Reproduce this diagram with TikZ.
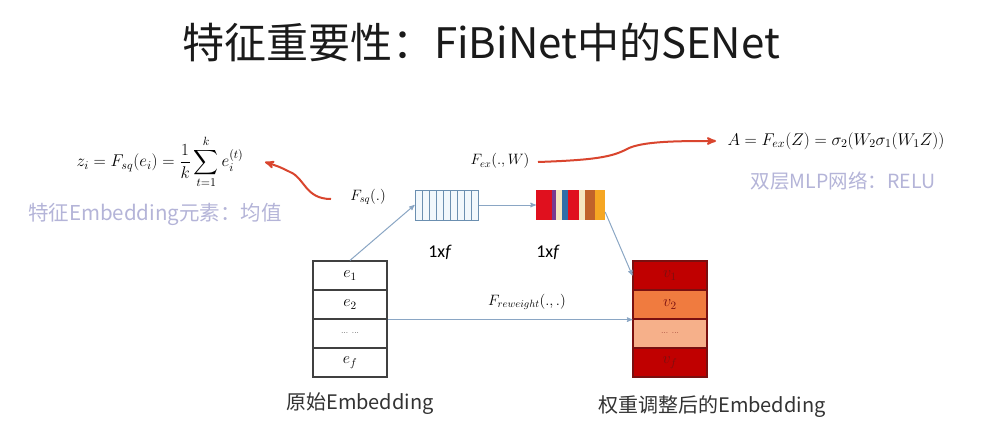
\RequirePackage{fix-cm}
\documentclass[tikz,border=0pt]{standalone}
\usepackage{fontspec}
\usepackage{amsmath}
\usepackage{tikz}
\usetikzlibrary{arrows}
\newfontfamily\cjk{Noto Sans CJK SC}
\newfontfamily\calib{Carlito}
\definecolor{titletext}{HTML}{1A1A1A}
\definecolor{softtext}{HTML}{B4B4D8}
\definecolor{curvered}{HTML}{D9452E}
\definecolor{linkblue}{HTML}{8AA6C4}
\definecolor{sqfill}{HTML}{F2F8FC}
\definecolor{sqdraw}{HTML}{6B8FB0}
\definecolor{vdark}{HTML}{C00000}
\definecolor{vmid}{HTML}{F07B3F}
\definecolor{vlight}{HTML}{F6B08A}
\definecolor{vedge}{HTML}{7A1010}
\definecolor{exred}{HTML}{E0101E}
\definecolor{expurple}{HTML}{7A3B8F}
\definecolor{excream}{HTML}{F5E6C0}
\definecolor{exblue}{HTML}{2F6EA8}
\definecolor{exbrown}{HTML}{C0622A}
\definecolor{exorange}{HTML}{F5A623}
\begin{document}
\begin{tikzpicture}[>=stealth',x=1pt,y=-1pt,
	cell/.style={draw=black!75,minimum width=74pt,minimum height=29pt,inner sep=0pt,line width=1.2pt,font=\fontsize{16}{18}\selectfont},
	vcell/.style={cell,draw=vedge,text=vedge},
	sqcell/.style={draw=sqdraw,fill=sqfill,minimum width=7.1pt,minimum height=30pt,inner sep=0pt,line width=0.8pt},
	excell/.style={minimum height=30pt,inner sep=0pt},
	link/.style={->,draw=linkblue,line width=1pt},
	curve/.style={->,draw=curvered,line width=2pt},
	soft/.style={text=softtext,font=\cjk\fontsize{20.5}{24}\selectfont},
	bottomtext/.style={text=black!80,font=\cjk\fontsize{20}{24}\selectfont},
	fname/.style={font=\fontsize{15}{17}\selectfont},
	dimtext/.style={font=\calib\fontsize{18}{20}\selectfont}]
	\useasboundingbox[fill=white](0,0)rectangle(1002,432);
	\node[text=titletext,font=\cjk\fontsize{42}{50}\selectfont](title)at(481,42){特征重要性：FiBiNet中的SENet};
	\node[font=\fontsize{17}{20}\selectfont](sqformula)at(160,162){$\displaystyle z_i=F_{sq}(e_i)=\frac{1}{k}\sum_{t=1}^{k}e_i^{(t)}$};
	\node[soft](sqnote)at(155,214){特征Embedding元素：均值};
	\node[font=\fontsize{17}{20}\selectfont](exformula)at(836,141){$A=F_{ex}(Z)=\sigma_2(W_2\sigma_1(W_1Z))$};
	\node[soft,font=\cjk\fontsize{19.5}{22}\selectfont](exnote)at(843,181){双层MLP网络：RELU};
	\node[fname](fsq)at(368,197){$F_{sq}(.)$};
	\node[fname](fex)at(500,161){$F_{ex}(.,W)$};
	\node[fname](frew)at(527,302){$F_{reweight}(.,.)$};
	\node[dimtext](sqdim)at(440,252){1x\textit{f}};
	\node[dimtext](exdim)at(548,252){1x\textit{f}};
	\node[cell](e1)at(350,275.5){$e_1$};
	\node[cell](e2)at(350,304.5){$e_2$};
	\node[cell,font=\fontsize{8}{9}\selectfont](edots)at(350,333.5){... ...};
	\node[cell](ef)at(350,362.5){$e_f$};
	\node[vcell,fill=vdark](v1)at(670,275.5){$v_1$};
	\node[vcell,fill=vmid](v2)at(670,304.5){$v_2$};
	\node[vcell,fill=vlight,font=\fontsize{8}{9}\selectfont](vdots)at(670,333.5){... ...};
	\node[vcell,fill=vdark](vf)at(670,362.5){$v_f$};
	\foreach \i in {0,...,8}
		\node[sqcell](sq\i)at(418.5+7.1*\i,205){};
	\foreach \n/\x/\w/\c in {1/544/16/exred,2/554/4/expurple,3/559/6/excream,4/565/6/exblue,5/573.5/11/exred,6/582/6/excream,7/590/10/exbrown,8/600/10/exorange}
		\node[excell,fill=\c,minimum width=\w pt](ex\n)at(\x,205){};
	\node[bottomtext](orig)at(360,404){原始Embedding};
	\node[bottomtext](reweighted)at(712,407){权重调整后的Embedding};
	\coordinate(sqtail)at(331,199);
	\coordinate(sqhead)at(265,162);
	\coordinate(extail)at(538,162);
	\coordinate(exhead)at(716,141);
	\draw[link](e1.north)--(sq0.west);
	\draw[link](sq8.east)--(ex1.west);
	\draw[link]([yshift=-7pt]ex8.east)--(v1.west);
	\draw[link](e2.south east)--(v2.south west);
	\draw[curve](sqtail)..controls(305,199)and(305,178)..(290,172)..controls(280,167)..(sqhead);
	\draw[curve](extail)..controls(595,160)and(612,157)..(627,149)..controls(642,141)and(680,141)..(exhead);
\end{tikzpicture}
\end{document}
